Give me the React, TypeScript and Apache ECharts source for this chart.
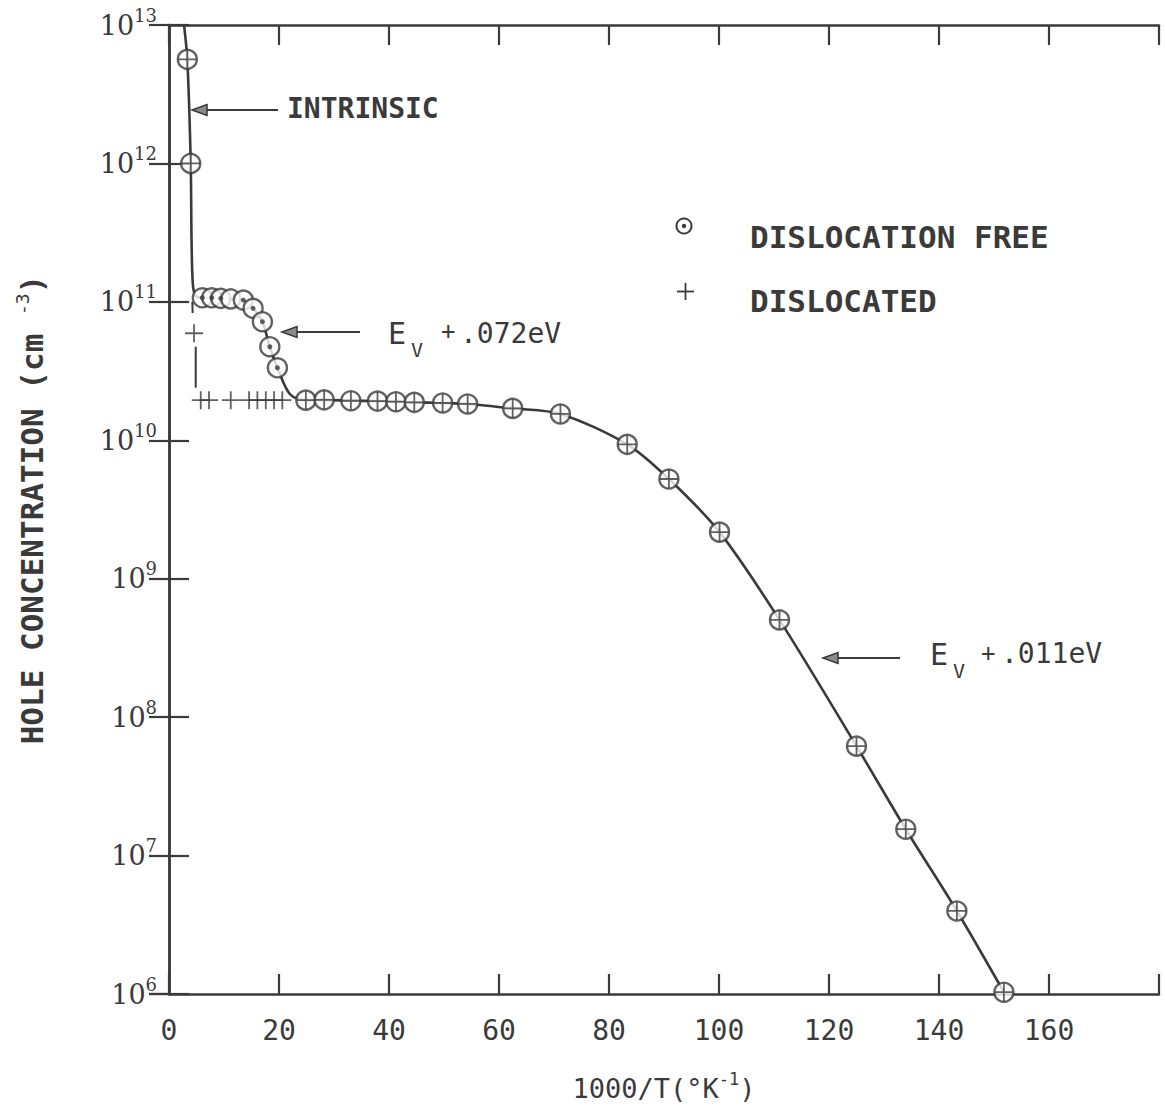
import React, { useEffect, useRef } from "react";
import * as echarts from "echarts";

// ---- data ----
// dislocation free samples (circles)
const freeX = [3.33, 3.95, 6.06, 7.77, 9.41, 11.23, 13.52, 15.29, 16.98, 18.33, 19.71, 24.88, 28.21, 33.07, 37.91, 41.26, 44.6, 49.75, 54.3, 62.49, 71.17, 83.31, 90.89, 100.1, 111.0, 125.0, 133.96, 143.25, 151.8];
const freeY = [5.65e12, 1.0e12, 1.07e11, 1.07e11, 1.06e11, 1.05e11, 1.03e11, 8.98e10, 7.19e10, 4.74e10, 3.34e10, 1.95e10, 1.96e10, 1.93e10, 1.92e10, 1.9e10, 1.88e10, 1.86e10, 1.83e10, 1.7e10, 1.55e10, 9.35e9, 5.25e9, 2.17e9, 5.04e8, 6.17e7, 1.55e7, 3.98e6, 1.03e6];
// dislocated samples (plus signs)
const dislX = [3.33, 3.95, 4.55, 5.77, 7.28, 11.23, 14.56, 16.07, 17.6, 19.1, 20.6, 24.88, 28.21, 33.07, 37.91, 41.26, 44.6, 49.75, 54.3, 62.49, 71.17, 83.31, 90.89, 100.1, 111.0, 125.0, 133.96, 143.25, 151.8];
const dislY = [5.65e12, 1.0e12, 5.93e10, 1.95e10, 1.95e10, 1.95e10, 1.95e10, 1.95e10, 1.95e10, 1.95e10, 1.95e10, 1.95e10, 1.96e10, 1.93e10, 1.92e10, 1.9e10, 1.88e10, 1.86e10, 1.83e10, 1.7e10, 1.55e10, 9.35e9, 5.25e9, 2.17e9, 5.04e8, 6.17e7, 1.55e7, 3.98e6, 1.03e6];
// drawn fit curve
const curveX = [2.73, 3.33, 3.95, 4.1, 4.35, 4.9, 6.06, 7.77, 9.41, 11.23, 13.52, 15.29, 16.98, 18.33, 19.71, 22.0, 24.88, 28.21, 33.07, 37.91, 41.26, 44.6, 49.75, 54.3, 62.49, 71.17, 83.31, 90.89, 100.1, 111.0, 125.0, 133.96, 143.25, 151.8];
const curveY = [1e13, 5.65e12, 1.0e12, 2.8e11, 1.32e11, 1.1e11, 1.07e11, 1.07e11, 1.06e11, 1.05e11, 1.03e11, 8.98e10, 7.19e10, 4.74e10, 3.34e10, 2.15e10, 1.95e10, 1.96e10, 1.93e10, 1.92e10, 1.9e10, 1.88e10, 1.86e10, 1.83e10, 1.7e10, 1.55e10, 9.35e9, 5.25e9, 2.17e9, 5.04e8, 6.17e7, 1.55e7, 3.98e6, 1.03e6];
// dislocated branch (drawn in two pieces around the plus marker)
const branchAX = [4.24, 4.3];
const branchAY = [1.0e11, 8.3e10];
const branchBX = [4.86, 4.86];
const branchBY = [4.74e10, 2.4e10];

const xMin = 0;
const xMax = 180;
const xStep = 20;
const yMin = 1e6;
const yMax = 1e13;

const INK = "#3a3a3a";
const MONO = "'DejaVu Sans Mono', monospace";
const SERIF = "'DejaVu Serif', serif";
const PLUS = "path://M9,0H11V9H20V11H11V20H9V11H0V9H9Z";

const zip = (xs: number[], ys: number[]) => xs.map((x, i) => [x, ys[i]]);

function arrow(x1: number, y: number, x2: number) {
  return {
    type: "group",
    children: [
      { type: "line", shape: { x1, y1: y, x2: x2 + 12, y2: y }, style: { stroke: INK, lineWidth: 2 } },
      {
        type: "polygon",
        shape: { points: [[x2, y], [x2 + 15, y - 5.5], [x2 + 15, y + 5.5]] },
        style: { fill: "#8a8a8a", stroke: INK, lineWidth: 1.5 },
      },
    ],
  };
}

function txt(text: string, x: number, y: number, size: number, weight: string = "normal", align: string = "left") {
  return {
    type: "text",
    x,
    y,
    style: {
      text,
      fontFamily: MONO,
      fontSize: size,
      fontWeight: weight,
      fill: INK,
      align,
      verticalAlign: "middle",
    },
  };
}

export default function App() {
  const ref = useRef<HTMLDivElement>(null);

  useEffect(() => {
    const chart = echarts.init(ref.current!, null, { renderer: "svg" });
    const axisLine = { show: true, lineStyle: { color: INK, width: 2.5 } };
    const tick = { show: true, inside: true, length: 20, lineStyle: { color: INK, width: 2.2 } };

    const dislSet = new Set(dislX.map((v) => v.toFixed(2)));
    const dotPts = zip(freeX, freeY).filter((p) => !dislSet.has(p[0].toFixed(2)));

    const option: any = {
      animation: false,
      backgroundColor: "#ffffff",
      grid: { left: 169, right: 6, top: 25, bottom: 122, outerBoundsMode: "none" },
      xAxis: [
        {
          type: "value",
          min: xMin,
          max: xMax,
          interval: xStep,
          position: "bottom",
          axisLine,
          axisTick: tick,
          splitLine: { show: false },
          axisLabel: {
            margin: 22,
            fontFamily: MONO,
            fontSize: 28,
            color: INK,
            formatter: (v: number) => (v > 160 ? "" : String(v)),
          },
          name: "{a|1000/T(°K}{s|-1}{a|)}",
          nameLocation: "middle",
          nameGap: 76,
          nameTextStyle: {
            rich: {
              a: { fontFamily: MONO, fontSize: 27, color: INK, lineHeight: 36 },
              s: { fontFamily: MONO, fontSize: 17, color: INK, lineHeight: 18, verticalAlign: "top" },
            },
          },
        },
        {
          type: "value",
          min: xMin,
          max: xMax,
          interval: xStep,
          position: "top",
          axisLine,
          axisTick: tick,
          axisLabel: { show: false },
          splitLine: { show: false },
        },
      ],
      yAxis: [
        {
          type: "log",
          logBase: 10,
          min: yMin,
          max: yMax,
          splitNumber: 7,
          position: "left",
          axisLine,
          axisTick: tick,
          minorTick: { show: false },
          splitLine: { show: false },
          axisLabel: {
            margin: 12,
            formatter: (v: number) => `{b|10}{s|${Math.round(Math.log10(v))}}`,
            rich: {
              b: { fontFamily: SERIF, fontSize: 27, color: INK, lineHeight: 38 },
              s: { fontFamily: SERIF, fontSize: 18, color: INK, lineHeight: 16, verticalAlign: "top" },
            },
          },
          name: "{a|HOLE CONCENTRATION (cm }{s|-3}{a|)}",
          nameLocation: "middle",
          nameGap: 118,
          nameRotate: 90,
          nameTextStyle: {
            rich: {
              a: { fontFamily: MONO, fontSize: 31, fontWeight: "bold", color: INK, lineHeight: 38 },
              s: { fontFamily: MONO, fontSize: 18, color: INK, lineHeight: 18, verticalAlign: "top" },
            },
          },
        },
        {
          type: "log",
          logBase: 10,
          min: yMin,
          max: yMax,
          splitNumber: 7,
          position: "right",
          axisLine,
          axisTick: tick,
          minorTick: { show: false },
          axisLabel: { show: false },
          splitLine: { show: false },
        },
      ],
      series: [
        {
          type: "line",
          data: zip(curveX, curveY),
          smooth: 0.3,
          symbol: "none",
          silent: true,
          lineStyle: { color: INK, width: 2.6 },
          z: 2,
        },
        {
          type: "line",
          data: zip(branchAX, branchAY),
          symbol: "none",
          silent: true,
          lineStyle: { color: INK, width: 2 },
          z: 2,
        },
        {
          type: "line",
          data: zip(branchBX, branchBY),
          symbol: "none",
          silent: true,
          lineStyle: { color: INK, width: 2 },
          z: 2,
        },
        {
          name: "DISLOCATION FREE",
          type: "scatter",
          data: zip(freeX, freeY),
          symbol: "circle",
          symbolSize: 19,
          silent: true,
          itemStyle: { color: "#ffffff", borderColor: INK, borderWidth: 2.4 },
          z: 3,
        },
        {
          type: "scatter",
          data: dotPts,
          symbol: "circle",
          symbolSize: 5,
          silent: true,
          itemStyle: { color: INK },
          z: 4,
        },
        {
          name: "DISLOCATED",
          type: "scatter",
          data: zip(dislX, dislY),
          symbol: PLUS,
          symbolSize: 18,
          silent: true,
          itemStyle: { color: INK },
          z: 5,
        },
      ],
      graphic: [
        // annotations
        arrow(278, 110, 192),
        txt("INTRINSIC", 287, 108, 28, "bold"),
        arrow(360, 332, 282),
        txt("E", 388, 333, 30),
        txt("V", 411, 350, 20),
        txt("+", 441, 331, 24),
        txt(".072eV", 460, 333, 28),
        arrow(900, 658, 823),
        txt("E", 930, 654, 30),
        txt("V", 953, 671, 20),
        txt("+", 981, 653, 24),
        txt(".011eV", 1001, 653, 28),
        // legend
        { type: "circle", shape: { cx: 684, cy: 226, r: 7.5 }, style: { fill: "#fff", stroke: INK, lineWidth: 2 } },
        { type: "circle", shape: { cx: 684, cy: 226, r: 2.2 }, style: { fill: INK } },
        txt("DISLOCATION FREE", 750, 237, 31, "bold"),
        { type: "line", shape: { x1: 677, y1: 291.5, x2: 694, y2: 291.5 }, style: { stroke: INK, lineWidth: 1.8 } },
        { type: "line", shape: { x1: 685.5, y1: 283, x2: 685.5, y2: 300 }, style: { stroke: INK, lineWidth: 1.8 } },
        txt("DISLOCATED", 750, 301, 31, "bold"),
      ],
    };
    chart.setOption(option);
    return () => chart.dispose();
  }, []);

  return (
    <div
      ref={ref}
      style={{ position: "absolute", left: 0, top: 0, width: 1165, height: 1116, background: "#fff" }}
    />
  );
}
